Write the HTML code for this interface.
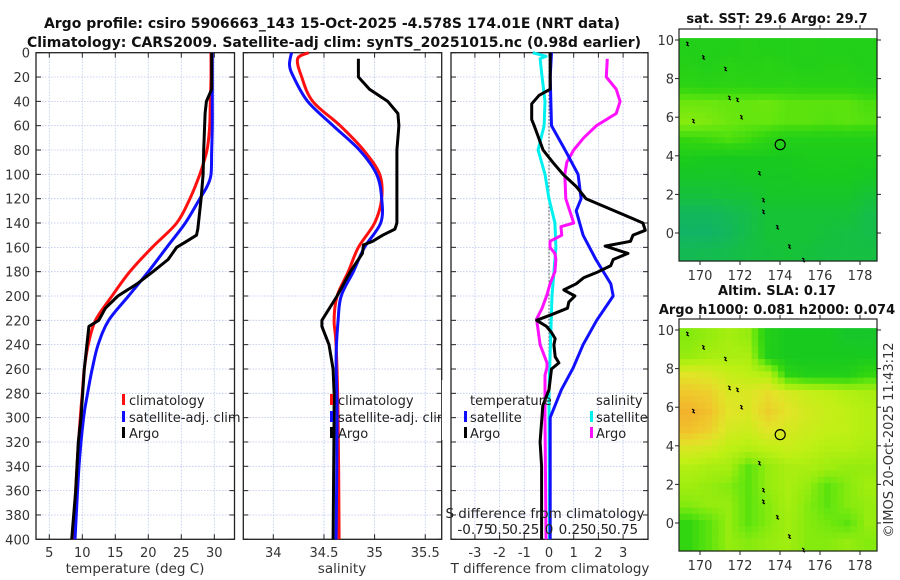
<!DOCTYPE html>
<html><head><meta charset="utf-8">
<style>
html,body{margin:0;padding:0;background:#fff;}
svg{display:block;font-family:"DejaVu Sans","Liberation Sans",sans-serif;}
</style></head>
<body>
<svg id="fig" width="900" height="580" viewBox="0 0 900 580" xmlns="http://www.w3.org/2000/svg">
<text x="332" y="28" font-size="14" font-weight="bold" text-anchor="middle" fill="#111">Argo profile: csiro 5906663_143 15-Oct-2025 -4.578S 174.01E (NRT data)</text>
<text x="334" y="47" font-size="14" font-weight="bold" text-anchor="middle" fill="#111">Climatology: CARS2009. Satellite-adj clim: synTS_20251015.nc (0.98d earlier)</text>
<g id="g"></g>
</svg>
<script>
// ---------- data ----------
const depthTicks=[0,20,40,60,80,100,120,140,160,180,200,220,240,260,280,300,320,340,360,380,400];
const tempTicks=[5,10,15,20,25,30];
const salTicks=[34,34.5,35,35.5];
const diffTTicks=[-3,-2,-1,0,1,2,3];
const diffSTicks=[-0.75,-0.5,-0.25,0,0.25,0.5,0.75];
const diffSLabels=["-0.75","0.5","0.25","0","0.25","0.5","0.75"];

const climTdepth=[0,20,40,60,80,100,120,140,160,180,200,220,240,260,280,300,340,400];
const climTvals=[29.5,29.5,29.4,29.3,28.9,27.8,26.3,24.3,20.6,17.2,14.5,12.0,10.9,10.3,10.0,9.7,9.2,8.6];
const satTdepth=[0,20,40,60,80,100,110,120,140,160,180,200,220,240,260,280,300,340,400];
const satTvals=[29.7,29.7,29.7,29.7,29.6,29.5,28.9,27.8,25.6,22.8,20.0,17.0,14.0,12.4,11.5,10.8,10.2,9.5,8.9];
const argoTdepth=[0,30,40,50,80,100,120,145,150,155,160,170,180,190,200,210,220,225,240,260,300,320,360,400];
const argoTvals=[29.6,29.6,28.8,28.6,28.4,28.3,28.0,27.5,27.3,25.8,24.3,23.0,20.7,18.3,15.4,13.5,12.5,11.0,10.7,10.3,9.8,9.4,9.0,8.4];

const climSdepth=[0,5,20,40,60,80,100,120,140,160,180,200,220,240,300,400];
const climSvals=[34.35,34.24,34.28,34.39,34.66,34.89,35.05,35.07,35.0,34.84,34.74,34.63,34.6,34.62,34.64,34.65];
const satSdepth=[0,10,20,40,60,80,100,120,140,160,180,200,220,250,300,400];
const satSvals=[34.18,34.16,34.2,34.34,34.59,34.85,35.02,35.07,35.06,34.9,34.79,34.67,34.64,34.62,34.63,34.62];
const argoSdepth=[5,20,30,40,50,60,80,100,140,145,150,155,158,165,180,200,220,225,240,260,280,300,400];
const argoSvals=[34.84,34.84,34.95,35.13,35.23,35.24,35.22,35.22,35.22,35.2,35.08,34.98,34.89,34.88,34.76,34.63,34.48,34.48,34.55,34.59,34.6,34.6,34.59];

const satdTdepth=[0,20,60,80,100,120,130,150,170,190,200,220,240,259,277,300,400];
const satdTvals=[0.1,0.05,0.1,0.65,1.18,1.3,1.1,1.38,1.9,2.5,2.6,1.93,1.38,0.98,0.5,0.05,0.05];
const argodTdepth=[0,30,35,42,55,60,80,90,100,110,120,140,146,150,155,159,165,170,175,180,185,190,195,200,205,210,215,220,225,230,235,240,250,255,260,277,290,320,340,400];
const argodTvals=[0.05,0.05,-0.4,-0.7,-0.7,-0.6,-0.24,0.15,0.57,1.1,1.5,3.8,3.9,3.4,3.3,2.27,3.2,2.6,2.5,2.0,1.4,1.1,0.6,1.05,0.8,0.75,0.15,-0.5,-0.1,0.1,0.25,0.2,0.25,0.4,0.1,0.0,-0.25,-0.36,-0.3,-0.3];
const satdSdepth=[0,3,5,20,40,60,80,100,120,140,160,200,277,400];
const satdSvals=[-0.165,-0.03,-0.09,-0.07,-0.04,-0.05,-0.11,-0.04,0.0,0.06,0.07,0.03,0.0,0.005];
const argodSdepth=[5,20,30,40,50,60,70,80,90,100,120,135,140,143,150,155,160,165,170,180,190,199,210,219,240,255,259,265,277,300,400];
const argodSvals=[0.59,0.58,0.68,0.72,0.68,0.48,0.35,0.25,0.18,0.16,0.17,0.23,0.25,0.12,0.13,0.01,0.01,0.06,0.07,0.06,0.01,-0.02,-0.07,-0.125,-0.09,-0.02,-0.02,-0.04,-0.04,-0.04,-0.03];

const mapLatTicks=[10,8,6,4,2,0];
const mapLonTicks=[170,172,174,176,178];
const sstGrid=[
[0.45,0.45,0.45,0.46,0.45,0.45,0.46,0.45,0.45,0.45],
[0.46,0.45,0.47,0.46,0.47,0.46,0.45,0.46,0.46,0.45],
[0.48,0.47,0.48,0.48,0.47,0.48,0.47,0.47,0.47,0.46],
[0.57,0.57,0.56,0.56,0.57,0.55,0.55,0.55,0.55,0.53],
[0.6,0.59,0.57,0.56,0.56,0.55,0.55,0.54,0.55,0.54],
[0.5,0.51,0.53,0.51,0.48,0.45,0.45,0.45,0.45,0.45],
[0.43,0.42,0.42,0.42,0.42,0.42,0.43,0.43,0.43,0.43],
[0.4,0.4,0.4,0.41,0.41,0.41,0.42,0.42,0.42,0.41],
[0.37,0.37,0.38,0.38,0.4,0.4,0.4,0.4,0.4,0.38],
[0.3,0.3,0.32,0.35,0.38,0.38,0.38,0.38,0.38,0.35],
[0.28,0.28,0.3,0.35,0.38,0.38,0.38,0.37,0.36,0.35],
[0.32,0.33,0.34,0.36,0.37,0.38,0.37,0.36,0.36,0.36]];
const slaGrid=[
[0.6,0.62,0.65,0.62,0.45,0.42,0.42,0.42,0.4,0.4],
[0.62,0.65,0.66,0.66,0.45,0.42,0.42,0.42,0.42,0.42],
[0.78,0.76,0.72,0.7,0.68,0.48,0.45,0.45,0.45,0.5],
[0.86,0.84,0.76,0.76,0.8,0.75,0.72,0.7,0.68,0.66],
[0.92,0.88,0.78,0.76,0.84,0.78,0.74,0.72,0.7,0.68],
[0.88,0.84,0.75,0.73,0.78,0.75,0.73,0.71,0.7,0.68],
[0.76,0.74,0.7,0.68,0.7,0.72,0.7,0.68,0.68,0.66],
[0.68,0.66,0.65,0.55,0.62,0.66,0.66,0.64,0.62,0.62],
[0.64,0.62,0.6,0.55,0.62,0.66,0.62,0.55,0.6,0.64],
[0.6,0.62,0.62,0.55,0.6,0.65,0.6,0.55,0.6,0.62],
[0.5,0.55,0.62,0.55,0.6,0.64,0.6,0.58,0.55,0.62],
[0.5,0.55,0.62,0.6,0.62,0.64,0.6,0.6,0.62,0.6]];
const argoLon=174.01, argoLat=4.578;

// ---------- helpers ----------
const NS="http://www.w3.org/2000/svg";
const G=document.getElementById('g');
function mk(tag,attrs,parent){const e=document.createElementNS(NS,tag);for(const k in attrs)e.setAttribute(k,attrs[k]);(parent||G).appendChild(e);return e;}
const TOP=52.7,BOT=539.3;
const yD=d=>TOP+(BOT-TOP)*d/400;
const xT=t=>49.3+(t-5)*6.6;
const xS=s=>273.3+(s-34)*101.3;
const xDT=t=>549+t*24.7;
const xDS=s=>549+s*98.8;

function panel(name,x0,x1,xticks,xf,labelDepth){
  const grp=mk('g',{});
  
  
  depthTicks.forEach(d=>{const l=mk('line',{x1:x0,x2:x1,y1:yD(d),y2:yD(d),stroke:'#b8c4ec','stroke-width':0.8,'stroke-dasharray':'1.5,1.5'},grp);
    
    mk('line',{x1:x0,x2:x0+5,y1:yD(d),y2:yD(d),stroke:'#222','stroke-width':1},grp);
    mk('line',{x1:x1-5,x2:x1,y1:yD(d),y2:yD(d),stroke:'#222','stroke-width':1},grp);
    if(labelDepth){const t=mk('text',{x:30,y:yD(d)+5,'font-size':13,'text-anchor':'end',fill:'#333'});t.textContent=d;
      }
  });
  xticks.forEach(v=>{const x=xf(v);const l=mk('line',{x1:x,x2:x,y1:TOP,y2:BOT,stroke:'#b8c4ec','stroke-width':0.8,'stroke-dasharray':'1.5,1.5'},grp);
    
    mk('line',{x1:x,x2:x,y1:BOT-5,y2:BOT,stroke:'#222','stroke-width':1},grp);
    mk('line',{x1:x,x2:x,y1:TOP,y2:TOP+5,stroke:'#222','stroke-width':1},grp);
    const t=mk('text',{x:x,y:557,'font-size':13,'text-anchor':'middle',fill:'#333'},grp);t.textContent=v;
    
  });
  const r=mk('rect',{x:x0,y:TOP,width:x1-x0,height:BOT-TOP,fill:'none',stroke:'#222','stroke-width':1.3},grp);
  
  return grp;
}
function line(name,depths,vals,xf,color,smooth){
  const pts=depths.map((d,i)=>[xf(vals[i]),yD(d)]);
  let p='M'+pts[0][0].toFixed(1)+','+pts[0][1].toFixed(1);
  for(let i=1;i<pts.length;i++){
    if(smooth){
      const p0=pts[i-2]||pts[i-1],p1=pts[i-1],p2=pts[i],p3=pts[i+1]||pts[i];
      const c1=[p1[0]+(p2[0]-p0[0])/6,p1[1]+(p2[1]-p0[1])/6];
      const c2=[p2[0]-(p3[0]-p1[0])/6,p2[1]-(p3[1]-p1[1])/6];
      p+='C'+c1[0].toFixed(1)+','+c1[1].toFixed(1)+' '+c2[0].toFixed(1)+','+c2[1].toFixed(1)+' '+p2[0].toFixed(1)+','+p2[1].toFixed(1);
    } else p+='L'+pts[i][0].toFixed(1)+','+pts[i][1].toFixed(1);
  }
  const e=mk('path',{d:p,fill:'none',stroke:color,'stroke-width':3,'stroke-linejoin':'round'});
  
}
function text(name,x,y,s,opts){const t=mk('text',Object.assign({x:x,y:y,'font-size':13,fill:'#222'},opts||{}));t.textContent=s;
  return t;}
function legBar(name,x,y,color){const r=mk('rect',{x:x,y:y-11,width:3,height:11,fill:color});
  }

// ---------- panel 1: temperature ----------
panel('temperature-panel',36,234.5,tempTicks,xT,true);
line('temperature-climatology-line',climTdepth,climTvals,xT,'#ff1010',true);
line('temperature-satellite-line',satTdepth,satTvals,xT,'#1010ff',true);
line('temperature-argo-line',argoTdepth,argoTvals,xT,'#000',false);
text('temperature-axis-title',135,573,'temperature (deg C)',{'text-anchor':'middle','font-size':13.5,fill:'#333'});
legBar('legend-marker-climatology',122,405,'#ff1010');text('legend-entry-climatology',129,405,'climatology');
legBar('legend-marker-satellite',122,422,'#1010ff');text('legend-entry-satellite',129,422,'satellite-adj. clim');
legBar('legend-marker-argo',122,438,'#000');text('legend-entry-argo',129,438,'Argo');

// ---------- panel 2: salinity ----------
panel('salinity-panel',243.3,441.7,salTicks,xS,false);
line('salinity-climatology-line',climSdepth,climSvals,xS,'#ff1010',true);
line('salinity-satellite-line',satSdepth,satSvals,xS,'#1010ff',true);
line('salinity-argo-line',argoSdepth,argoSvals,xS,'#000',false);
text('salinity-axis-title',342,573,'salinity',{'text-anchor':'middle','font-size':13.5,fill:'#333'});
legBar('legend-marker-climatology-2',330,405,'#ff1010');text('legend-entry-climatology-2',338,405,'climatology');
legBar('legend-marker-satellite-2',330,422,'#1010ff');text('legend-entry-satellite-2',338,422,'satellite-adj. clim');
legBar('legend-marker-argo-2',330,438,'#000');text('legend-entry-argo-2',338,438,'Argo');
mk('rect',{x:441.9,y:380,width:9,height:60,fill:'#fff'});

// ---------- panel 3: differences ----------
panel('difference-panel',451,648,diffTTicks,xDT,false);
const zl=mk('line',{x1:549,x2:549,y1:TOP,y2:BOT,stroke:'#444','stroke-width':1,'stroke-dasharray':'1.5,2'});

line('s-diff-satellite-line',satdSdepth,satdSvals,xDS,'#00f0f0',false);
line('s-diff-argo-line',argodSdepth,argodSvals,xDS,'#ff10ff',false);
line('t-diff-satellite-line',satdTdepth,satdTvals,xDT,'#1010ff',false);
line('t-diff-argo-line',argodTdepth,argodTvals,xDT,'#000',false);
text('t-diff-axis-title',550,573,'T difference from climatology',{'text-anchor':'middle','font-size':13.5,fill:'#333'});
text('s-diff-axis-title',545,518,'S difference from climatology',{'text-anchor':'middle','font-size':13.5,fill:'#222'});
diffSTicks.forEach((v,i)=>{text('s-diff-tick-label',xDS(v),534,diffSLabels[i],{'text-anchor':'middle','font-size':13.5});});
text('legend-title-temperature',470,405,'temperature');
text('legend-title-salinity',596,405,'salinity');
legBar('legend-marker-t-satellite',464,422,'#1010ff');text('legend-entry-t-satellite',470,422,'satellite');
legBar('legend-marker-t-argo',464,438,'#000');text('legend-entry-t-argo',470,438,'Argo');
legBar('legend-marker-s-satellite',590,422,'#00f0f0');text('legend-entry-s-satellite',596,422,'satellite');
legBar('legend-marker-s-argo',590,438,'#ff10ff');text('legend-entry-s-argo',596,438,'Argo');

// ---------- maps ----------
const cstops=[[0.25,[16,176,112]],[0.35,[20,190,72]],[0.42,[24,202,30]],[0.5,[50,214,16]],[0.56,[100,230,14]],[0.62,[150,236,14]],[0.7,[190,240,20]],[0.78,[226,228,40]],[0.86,[240,200,44]],[0.95,[244,168,44]]];
function cmap(v){if(v<=cstops[0][0])return 'rgb('+cstops[0][1]+')';
  for(let i=1;i<cstops.length;i++){if(v<=cstops[i][0]){const a=cstops[i-1],b=cstops[i],f=(v-a[0])/(b[0]-a[0]);
    return 'rgb('+a[1].map((c,k)=>Math.round(c+(b[1][k]-c)*f)).join(',')+')';}}
  return 'rgb('+cstops[cstops.length-1][1]+')';}
function sample(grid,r,c){ // bilinear, r/c in cell-centre units
  const R=grid.length,C=grid[0].length;
  r=Math.max(0,Math.min(R-1,r));c=Math.max(0,Math.min(C-1,c));
  const r0=Math.floor(r),c0=Math.floor(c),r1=Math.min(R-1,r0+1),c1=Math.min(C-1,c0+1),fr=r-r0,fc=c-c0;
  return grid[r0][c0]*(1-fr)*(1-fc)+grid[r0][c1]*(1-fr)*fc+grid[r1][c0]*fr*(1-fc)+grid[r1][c1]*fr*fc;
}
function mapPanel(name,grid,fy0,titleLines,titleY,labelY){
  const x0=679,x1=877,y0=fy0,y1=fy0+232;
  const xL=lon=>700+(lon-170)*20;
  const yL=lat=>(y0+11)+(10-lat)*19.3;
  const grp=mk('g',{});
  
  const dTop=yL(10.1),dBot=y1;
  const rows=grid.length,cols=grid[0].length,S=3;
  const ch=(dBot-dTop)/(rows*S),cw=(x1-x0)/(cols*S);
  for(let i=0;i<rows*S;i++)for(let j=0;j<cols*S;j++){
    const v=sample(grid,(i+0.5)/S-0.5,(j+0.5)/S-0.5);
    const c=mk('rect',{x:(x0+j*cw).toFixed(1),y:(dTop+i*ch).toFixed(1),width:(cw+0.6).toFixed(1),height:(ch+0.6).toFixed(1),fill:cmap(v)},grp);
    
  }
  [[169.3,9.9],[170.1,9.2],[171.2,8.6],[171.4,7.1],[171.8,7.0],[172.0,6.1],[169.6,5.9],[172.9,3.2],[173.1,1.8],[173.1,1.2],[173.8,0.4],[174.4,-0.6],[175.1,-1.3]].forEach(p=>{
    const s=mk('path',{d:`M${xL(p[0])},${yL(p[1])} l2,1 l-1,2 l2,1`,stroke:'#000','stroke-width':1.2,fill:'none'},grp);
    
  });
  const ci=mk('circle',{cx:xL(argoLon),cy:yL(argoLat),r:5,fill:'none',stroke:'#000','stroke-width':1.2},grp);
  
  const fr=mk('rect',{x:x0,y:y0,width:x1-x0,height:y1-y0,fill:'none',stroke:'#222','stroke-width':1.2},grp);
  
  mapLatTicks.forEach(l=>{const y=yL(l);mk('line',{x1:x0-4,x2:x0,y1:y,y2:y,stroke:'#222'},grp);mk('line',{x1:x1,x2:x1+4,y1:y,y2:y,stroke:'#222'},grp);
    const t=mk('text',{x:x0-5,y:y+5,'font-size':13,'text-anchor':'end',fill:'#333'},grp);t.textContent=l;
    });
  mapLonTicks.forEach(l=>{const x=xL(l);mk('line',{x1:x,x2:x,y1:y0-4,y2:y0,stroke:'#222'},grp);mk('line',{x1:x,x2:x,y1:y1,y2:y1+4,stroke:'#222'},grp);
    const t=mk('text',{x:x,y:labelY,'font-size':13,'text-anchor':'middle',fill:'#333'},grp);t.textContent=l;
    });
  titleLines.forEach((s,i)=>{const t=mk('text',{x:777,y:titleY[i],'font-size':13,'font-weight':'bold','text-anchor':'middle',fill:'#111'},grp);t.textContent=s;
    });
}
mapPanel('sst-map',sstGrid,29,['sat. SST: 29.6 Argo: 29.7'],[23],280);
mapPanel('sla-map',slaGrid,319,['Altim. SLA: 0.17','Argo h1000: 0.081 h2000: 0.074'],[295,314],570);
text('imos-credit',893,440,'©IMOS 20-Oct-2025 11:43:12',{'text-anchor':'middle','font-size':13,fill:'#333',transform:'rotate(-90 893 440)'});
</script>
</body></html>
